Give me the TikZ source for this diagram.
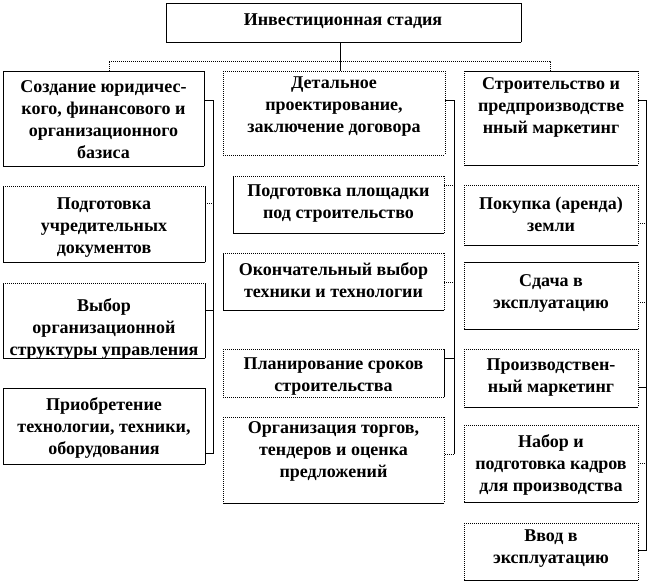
\documentclass[tikz,border=0pt]{standalone}
\usepackage{fontspec}
\setmainfont{Liberation Serif}
\newcommand\mkbox[5]{\node[box, minimum width=#4pt-#2pt, minimum height=#5pt-#3pt] (#1) at ({(#2+#4)/2},{(#3+#5)/2}) {};}
\newcommand\bedges[5]{%
  \draw[e#2] (#1.north west) -- (#1.north east);
  \draw[e#3] (#1.north east) -- (#1.south east);
  \draw[e#4] (#1.south west) -- (#1.south east);
  \draw[e#5] (#1.north west) -- (#1.south west);}
\begin{document}
\begin{tikzpicture}[x=1pt,y=-1pt,
  box/.style={rectangle, inner sep=0pt, outer sep=0pt},
  txt/.style={font=\bfseries\fontsize{18}{22}\selectfont, align=center, inner sep=0pt},
  ln/.style={line width=0.9pt, black},
  dl/.style={line width=0.8pt, dash pattern=on 1pt off 1pt, black},
  es/.style={ln, line cap=rect},
  ed/.style={dl}
]
\useasboundingbox (0,0) rectangle (647,582);
% boxes
\mkbox{top}{166}{3}{521}{42}
\mkbox{c1}{3}{71}{204}{166}
\mkbox{c2}{223}{71}{445}{155}
\mkbox{c3}{464}{71}{638}{165}
\mkbox{l1}{3}{186}{205}{262}
\mkbox{l2}{3}{283}{205}{358}
\mkbox{l3}{3}{388}{205}{464}
\mkbox{m1}{233}{176}{444}{233}
\mkbox{m2}{223}{253}{444}{310}
\mkbox{m3}{223}{349}{444}{397}
\mkbox{m4}{223}{417}{444}{503}
\mkbox{r1}{464}{185}{638}{245}
\mkbox{r2}{464}{262}{638}{329}
\mkbox{r3}{464}{349}{638}{407}
\mkbox{r4}{464}{425}{638}{502}
\mkbox{r5}{464}{523}{638}{580}
% borders
\bedges{top}{s}{s}{s}{s}
\bedges{c1}{s}{s}{s}{s}
\bedges{c2}{d}{d}{d}{d}
\bedges{c3}{s}{d}{s}{d}
\bedges{l1}{d}{s}{s}{s}
\bedges{l2}{d}{s}{s}{s}
\bedges{l3}{s}{s}{s}{s}
\bedges{m1}{d}{d}{s}{s}
\bedges{m2}{d}{d}{s}{s}
\bedges{m3}{d}{s}{d}{d}
\bedges{m4}{d}{d}{s}{d}
\bedges{r1}{d}{d}{s}{d}
\bedges{r2}{s}{d}{s}{d}
\bedges{r3}{d}{d}{s}{d}
\bedges{r4}{d}{d}{s}{d}
\bedges{r5}{d}{d}{s}{d}
% texts
\node[txt] (ttop) at (343,21) {Инвестиционная стадия};
\node[txt] (tc1) at (103.5,120) {Создание юридичес-\\кого, финансового и\\организационного\\базиса};
\node[txt] (tc2) at (334,107) {Детальное\\проектирование,\\заключение договора};
\node[txt] (tc3) at (551,107) {Строительство и\\предпроизводстве\\нный маркетинг};
\node[txt] (tl1) at (104,228) {Подготовка\\учредительных\\документов};
\node[txt] (tl2) at (104,329) {Выбор\\организационной\\структуры управления};
\node[txt] (tl3) at (104,428) {Приобретение\\технологии, техники,\\оборудования};
\node[txt] (tm1) at (338.5,204) {Подготовка площадки\\под строительство};
\node[txt] (tm2) at (333.5,280) {Окончательный выбор\\техники и технологии};
\node[txt] (tm3) at (333.5,377) {Планирование сроков\\строительства};
\node[txt] (tm4) at (333.5,451) {Организация торгов,\\тендеров и оценка\\предложений};
\node[txt] (tr1) at (551,214) {Покупка (аренда)\\земли};
\node[txt] (tr2) at (551,293) {Сдача в\\эксплуатацию};
\node[txt] (tr3) at (551,378) {Производствен-\\ный маркетинг};
\node[txt] (tr4) at (551,465) {Набор и\\подготовка кадров\\для производства};
\node[txt] (tr5) at (551,549) {Ввод в\\эксплуатацию};
% connector coordinates
\coordinate (T) at (340,61);
\coordinate (TL) at (109,61);
\coordinate (TR) at (550,61);
\coordinate (LS) at (213,100);
\coordinate (LE) at (213,453);
\coordinate (L1) at (213,203);
\coordinate (L2) at (213,310);
\coordinate (MS) at (454,100);
\coordinate (ME) at (454,454);
\coordinate (M1) at (454,185);
\coordinate (M2) at (454,282);
\coordinate (M3) at (454,358);
\coordinate (RS) at (646,100);
\coordinate (RE) at (646,550);
\coordinate (R1) at (646,223);
\coordinate (R2) at (646,302);
\coordinate (R3) at (646,387);
\coordinate (R4) at (646,463);
% top connectors
\draw[ln] (top.south -| T) -- (c2.north -| T);
\draw[dl] (c1.north -| TL) -- (TL) -- (TR) -- (c3.north -| TR);
% left
\draw[ln] (c1.east |- LS) -- (LS) -- (LE) -- (l3.east |- LE);
\draw[dl] (l1.east |- L1) -- (L1);
\draw[ln] (l2.east |- L2) -- (L2);
% middle
\draw[ln] (c2.east |- MS) -- (MS) -- (ME);
\draw[dl] (ME) -- (m4.east |- ME);
\draw[dl] (m1.east |- M1) -- (M1);
\draw[dl] (m2.east |- M2) -- (M2);
\draw[ln] (m3.east |- M3) -- (M3);
% right
\draw[ln] (c3.east |- RS) -- (RS) -- (RE) -- (r5.east |- RE);
\draw[dl] (r1.east |- R1) -- (R1);
\draw[dl] (r2.east |- R2) -- (R2);
\draw[ln] (r3.east |- R3) -- (R3);
\draw[dl] (r4.east |- R4) -- (R4);
\end{tikzpicture}
\end{document}
